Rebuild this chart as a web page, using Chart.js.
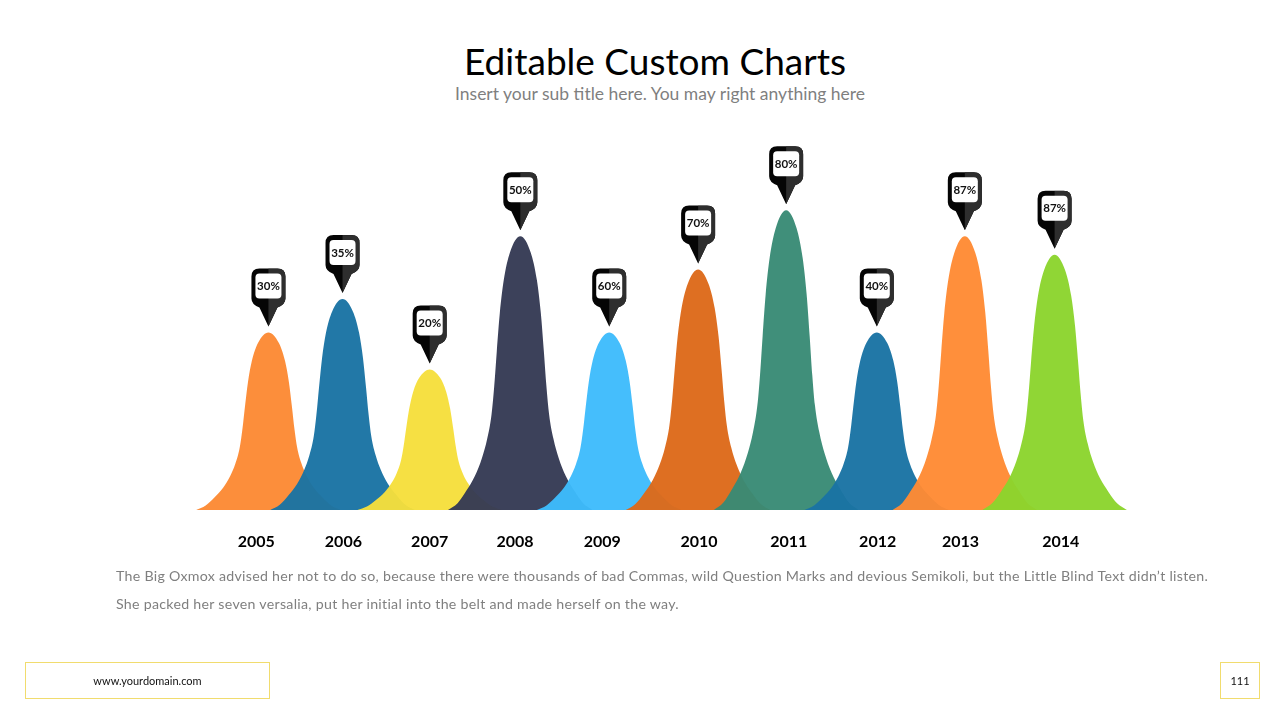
<!DOCTYPE html>
<html>
<head>
<meta charset="utf-8">
<script src="https://cdn.jsdelivr.net/npm/chart.js@4.4.1/dist/chart.umd.min.js"></script>
<style>
    body { margin: 0; background: #fff; font-family: Lato, 'Open Sans', sans-serif; }
    #page { position: relative; width: 1280px; height: 720px; overflow: hidden; }
    #chartBox { position: absolute; left: 0; top: 0; width: 1280px; height: 720px; }
    .title { position: absolute; top: 38px; left: 15px; width: 1280px; text-align: center; font-size: 37px; line-height: 46px; color: #000; }
    .subtitle { position: absolute; top: 83px; left: 20px; width: 1280px; text-align: center; font-size: 17.5px; line-height: 22px; color: #7f7f7f; }
    .text { position: absolute; left: 116px; top: 562px; width: 1140px; font-size: 14.2px; letter-spacing: 0.28px; line-height: 28px; color: #7f7f7f; white-space: nowrap; }
    .foot { position: absolute; top: 662px; height: 37px; border: 1px solid #f1dc6e; box-sizing: border-box; font-size: 11px; line-height: 35px; text-align: center; color: #111; }
</style>
</head>
<body>
<div id="page">
    <div class="title">Editable Custom Charts</div>
    <div class="subtitle">Insert your sub title here. You may right anything here</div>
    <div id="chartBox"><canvas id="peakChart"></canvas></div>
    <div class="text">The Big Oxmox advised her not to do so, because there were thousands of bad Commas, wild Question Marks and devious Semikoli, but the Little Blind Text didn’t listen.<br>She packed her seven versalia, put her initial into the belt and made herself on the way.</div>
    <div class="foot" style="left:25px;width:245px;">www.yourdomain.com</div>
    <div class="foot" style="left:1220px;width:40px;">111</div>
</div>
<script>
const peakChart = document.getElementById('peakChart').getContext('2d');

const years = ['2005', '2006', '2007', '2008', '2009', '2010', '2011', '2012', '2013', '2014'];
const yearTickPositions = [2004.86, 2005.86, 2006.85, 2007.83, 2008.83, 2009.94, 2010.97, 2011.99, 2012.94, 2014.09];
const peakPositions = [2005.0, 2005.85, 2006.85, 2007.89, 2008.91, 2009.93, 2010.94, 2011.98, 2012.99, 2014.02];
const peakHeights = [48, 57, 38, 74, 48, 65, 81, 48, 74, 69];
const peakLabels = ['30%', '35%', '20%', '50%', '60%', '70%', '80%', '40%', '87%', '87%'];
const peakColors = ['#fc8a34', '#1a73a4', '#f6df3c', '#353a54', '#3ebcfc', '#dd6a1a', '#398b75', '#1a73a4', '#ff8b34', '#8cd52e'];

const bellOffsets = [-0.83, -0.72, -0.62, -0.52, -0.44, -0.38, -0.33, -0.30, -0.27, -0.235, -0.19, -0.12, 0, 0.12, 0.19, 0.235, 0.27, 0.30, 0.33, 0.38, 0.44, 0.52, 0.62, 0.72, 0.83];
const bellShares = [0, 0.025, 0.07, 0.125, 0.19, 0.26, 0.35, 0.45, 0.58, 0.72, 0.84, 0.94, 1, 0.94, 0.84, 0.72, 0.58, 0.45, 0.35, 0.26, 0.19, 0.125, 0.07, 0.025, 0];
const topIndex = bellShares.indexOf(1);

const datasets = years.map((year, i) => ({
    label: year,
    data: bellOffsets.map((dx, k) => ({ x: peakPositions[i] + dx, y: bellShares[k] * peakHeights[i] })),
    borderWidth: 0,
    pointRadius: 0,
    fill: 'origin',
    backgroundColor: peakColors[i] + 'f6',
    cubicInterpolationMode: 'monotone',
    order: years.length - i
}));

const pinLabels = {
    id: 'pinLabels',
    afterDatasetsDraw(chart) {
        const { ctx } = chart;
        chart.data.datasets.forEach((ds, i) => {
            const pt = chart.getDatasetMeta(i).data[topIndex];
            const cx = pt.x;
            const tip = pt.y - 6;
            const top = tip - 58;

            ctx.save();
            ctx.beginPath();
            ctx.moveTo(cx - 17, top + 8);
            ctx.quadraticCurveTo(cx - 17, top, cx - 9, top);
            ctx.lineTo(cx + 9, top);
            ctx.quadraticCurveTo(cx + 17, top, cx + 17, top + 8);
            ctx.lineTo(cx + 17, top + 30);
            ctx.quadraticCurveTo(cx + 17, top + 36, cx + 9, top + 39);
            ctx.lineTo(cx, tip);
            ctx.lineTo(cx - 9, top + 39);
            ctx.quadraticCurveTo(cx - 17, top + 36, cx - 17, top + 30);
            ctx.closePath();
            ctx.fillStyle = '#050505';
            ctx.fill();
            ctx.clip();
            ctx.fillStyle = '#2e2e2e';
            ctx.fillRect(cx, top, 18, 64);
            ctx.restore();

            ctx.beginPath();
            ctx.roundRect(cx - 13, top + 5, 26, 25, 4);
            ctx.fillStyle = '#ffffff';
            ctx.fill();

            ctx.font = 'bold 11.5px Lato, sans-serif';
            ctx.fillStyle = '#111';
            ctx.textAlign = 'center';
            ctx.textBaseline = 'middle';
            ctx.fillText(peakLabels[i], cx, top + 18);
        });
    }
};

new Chart(peakChart, {
    type: 'line',
    data: { datasets: datasets },
    plugins: [pinLabels],
    options: {
        responsive: true,
        maintainAspectRatio: false,
        animation: false,
        layout: {
            padding: { left: 190, right: 140, top: 140, bottom: 170 }
        },
        plugins: {
            legend: { display: false },
            tooltip: { enabled: false }
        },
        scales: {
            x: {
                type: 'linear',
                min: 2004.1,
                max: 2015.0,
                grid: { display: false, drawTicks: false },
                border: { display: false },
                afterFit: (scale) => { scale.height = 40; },
                afterBuildTicks: (scale) => {
                    scale.ticks = yearTickPositions.map(v => ({ value: v }));
                },
                ticks: {
                    autoSkip: false,
                    maxRotation: 0,
                    padding: 22,
                    color: '#000',
                    font: { family: 'Lato', size: 16, weight: 'bold' },
                    callback: (value, index) => years[index]
                }
            },
            y: {
                display: false,
                min: 0,
                max: 100
            }
        }
    }
});
</script>
</body>
</html>
